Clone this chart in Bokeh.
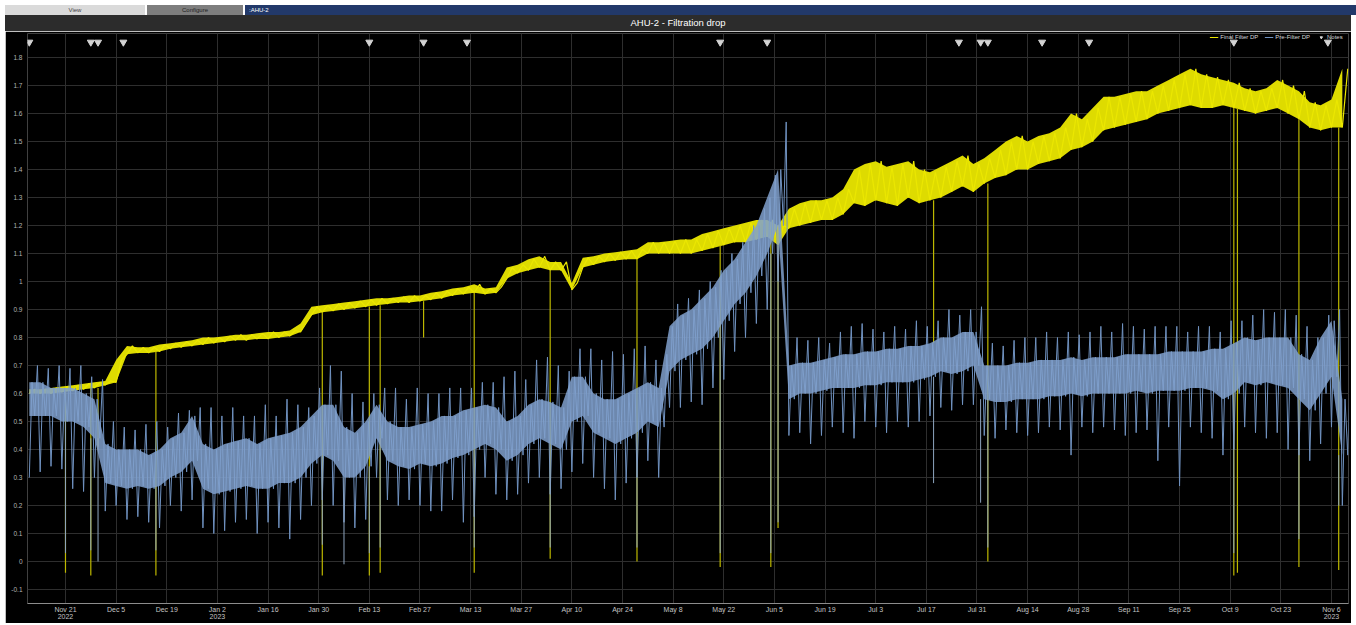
import numpy as np
import pandas as pd
from bokeh.plotting import figure
from bokeh.models import FixedTicker, Legend, LegendItem, Div, Range1d
from bokeh.layouts import column
from bokeh.embed import file_html
from bokeh.resources import INLINE

# ---------------- data ----------------
sample_dates = pd.date_range("2022-11-11", periods=122, freq="3D")

final_lo = [0.600, 0.600, 0.600, 0.605, 0.610, 0.615, 0.620, 0.630, 0.640, 0.740,
            0.745, 0.745, 0.750, 0.760, 0.765, 0.770, 0.775, 0.780, 0.785, 0.790,
            0.790, 0.795, 0.795, 0.800, 0.805, 0.820, 0.880, 0.890, 0.895, 0.900,
            0.905, 0.910, 0.915, 0.920, 0.925, 0.925, 0.930, 0.935, 0.940, 0.950,
            0.955, 0.960, 0.955, 0.960, 1.010, 1.030, 1.040, 1.050, 1.040, 1.040,
            0.970, 1.050, 1.060, 1.070, 1.075, 1.080, 1.080, 1.100, 1.100, 1.100,
            1.100, 1.100, 1.110, 1.120, 1.130, 1.140, 1.140, 1.150, 1.160, 1.130,
            1.190, 1.200, 1.210, 1.220, 1.220, 1.240, 1.280, 1.270, 1.290, 1.280,
            1.270, 1.300, 1.280, 1.290, 1.300, 1.320, 1.340, 1.320, 1.350, 1.370,
            1.380, 1.400, 1.400, 1.420, 1.430, 1.440, 1.470, 1.480, 1.500, 1.540,
            1.550, 1.560, 1.570, 1.580, 1.600, 1.610, 1.620, 1.630, 1.620, 1.620,
            1.630, 1.620, 1.610, 1.600, 1.610, 1.620, 1.600, 1.580, 1.550, 1.540,
            1.550, 1.550]
final_hi = [0.615, 0.615, 0.620, 0.625, 0.630, 0.635, 0.640, 0.645, 0.720, 0.770,
            0.765, 0.765, 0.775, 0.780, 0.785, 0.790, 0.800, 0.800, 0.805, 0.810,
            0.810, 0.815, 0.820, 0.820, 0.825, 0.850, 0.910, 0.915, 0.920, 0.925,
            0.930, 0.935, 0.940, 0.940, 0.945, 0.950, 0.950, 0.960, 0.965, 0.975,
            0.980, 0.990, 0.975, 0.980, 1.050, 1.060, 1.080, 1.090, 1.070, 1.070,
            0.995, 1.085, 1.090, 1.100, 1.105, 1.110, 1.115, 1.140, 1.140, 1.145,
            1.150, 1.150, 1.170, 1.180, 1.190, 1.200, 1.210, 1.220, 1.220, 1.200,
            1.260, 1.280, 1.290, 1.290, 1.300, 1.330, 1.400, 1.420, 1.430, 1.410,
            1.420, 1.430, 1.400, 1.390, 1.410, 1.430, 1.450, 1.420, 1.440, 1.470,
            1.500, 1.520, 1.500, 1.520, 1.530, 1.550, 1.600, 1.580, 1.620, 1.660,
            1.660, 1.670, 1.680, 1.680, 1.700, 1.720, 1.740, 1.760, 1.740, 1.730,
            1.720, 1.710, 1.690, 1.680, 1.690, 1.720, 1.700, 1.680, 1.640, 1.630,
            1.650, 1.760]

pre_lo = [0.52, 0.52, 0.52, 0.50, 0.50, 0.48, 0.44, 0.28, 0.27, 0.26,
          0.27, 0.26, 0.27, 0.30, 0.32, 0.36, 0.26, 0.24, 0.25, 0.26,
          0.27, 0.26, 0.26, 0.28, 0.28, 0.30, 0.35, 0.38, 0.36, 0.30,
          0.30, 0.34, 0.44, 0.36, 0.34, 0.33, 0.35, 0.34, 0.35, 0.37,
          0.38, 0.40, 0.42, 0.40, 0.36, 0.38, 0.42, 0.44, 0.42, 0.40,
          0.50, 0.52, 0.46, 0.44, 0.42, 0.44, 0.46, 0.50, 0.48, 0.68,
          0.72, 0.74, 0.76, 0.80, 0.86, 0.92, 0.96, 1.02, 1.10, 1.20,
          0.58, 0.60, 0.60, 0.61, 0.62, 0.62, 0.62, 0.63, 0.63, 0.64,
          0.64, 0.64, 0.65, 0.66, 0.68, 0.67, 0.68, 0.70, 0.58, 0.57,
          0.57, 0.58, 0.58, 0.58, 0.59, 0.59, 0.60, 0.59, 0.60, 0.60,
          0.60, 0.60, 0.61, 0.60, 0.61, 0.61, 0.61, 0.62, 0.62, 0.61,
          0.58, 0.60, 0.64, 0.63, 0.64, 0.63, 0.62, 0.58, 0.54, 0.60,
          0.66, 0.38]
pre_hi = [0.64, 0.64, 0.62, 0.62, 0.62, 0.60, 0.58, 0.42, 0.40, 0.40,
          0.40, 0.38, 0.40, 0.44, 0.46, 0.52, 0.42, 0.40, 0.42, 0.43,
          0.44, 0.42, 0.44, 0.45, 0.46, 0.48, 0.52, 0.56, 0.56, 0.48,
          0.46, 0.50, 0.56, 0.50, 0.48, 0.48, 0.49, 0.50, 0.52, 0.52,
          0.54, 0.55, 0.56, 0.55, 0.50, 0.52, 0.56, 0.58, 0.57, 0.55,
          0.66, 0.66, 0.60, 0.58, 0.58, 0.60, 0.62, 0.64, 0.62, 0.84,
          0.88, 0.90, 0.94, 0.98, 1.04, 1.08, 1.14, 1.20, 1.30, 1.40,
          0.70, 0.71, 0.71, 0.72, 0.73, 0.74, 0.74, 0.75, 0.75, 0.76,
          0.76, 0.77, 0.77, 0.78, 0.80, 0.80, 0.82, 0.82, 0.70, 0.70,
          0.70, 0.71, 0.71, 0.72, 0.72, 0.72, 0.73, 0.72, 0.73, 0.73,
          0.73, 0.74, 0.74, 0.74, 0.74, 0.75, 0.75, 0.75, 0.75, 0.76,
          0.76, 0.78, 0.80, 0.79, 0.80, 0.80, 0.80, 0.74, 0.72, 0.80,
          0.86, 0.58]
pre_min = [0.30, 0.32, 0.34, 0.33, 0.26, 0.25, 0.30, 0.18, 0.20, 0.15,
           0.16, 0.14, 0.12, 0.20, 0.18, 0.22, 0.12, 0.10, 0.11, 0.14,
           0.15, 0.10, 0.14, 0.12, 0.08, 0.15, 0.20, 0.22, 0.20, 0.14,
           0.12, 0.15, 0.30, 0.22, 0.20, 0.22, 0.20, 0.18, 0.18, 0.22,
           0.14, 0.16, 0.30, 0.24, 0.22, 0.24, 0.28, 0.30, 0.24, 0.26,
           0.32, 0.35, 0.30, 0.26, 0.22, 0.28, 0.30, 0.36, 0.30, 0.55,
           0.55, 0.57, 0.56, 0.62, 0.65, 0.75, 0.80, 0.85, 0.90, 1.00,
           0.45, 0.46, 0.42, 0.45, 0.48, 0.46, 0.44, 0.50, 0.48, 0.46,
           0.50, 0.48, 0.50, 0.52, 0.55, 0.54, 0.56, 0.56, 0.45, 0.44,
           0.47, 0.46, 0.45, 0.46, 0.48, 0.47, 0.38, 0.48, 0.46, 0.48,
           0.47, 0.45, 0.46, 0.47, 0.36, 0.48, 0.27, 0.48, 0.46, 0.44,
           0.38, 0.40, 0.48, 0.46, 0.44, 0.46, 0.40, 0.38, 0.36, 0.42,
           0.48, 0.20]
pre_max = [0.70, 0.69, 0.70, 0.69, 0.70, 0.66, 0.65, 0.50, 0.48, 0.47,
           0.49, 0.50, 0.48, 0.53, 0.54, 0.55, 0.55, 0.52, 0.55, 0.52,
           0.52, 0.56, 0.52, 0.58, 0.56, 0.55, 0.62, 0.70, 0.68, 0.60,
           0.57, 0.60, 0.62, 0.62, 0.58, 0.62, 0.60, 0.60, 0.62, 0.62,
           0.62, 0.64, 0.64, 0.66, 0.68, 0.65, 0.72, 0.73, 0.70, 0.68,
           0.76, 0.76, 0.72, 0.75, 0.74, 0.76, 0.77, 0.72, 0.74, 0.92,
           0.94, 0.97, 1.00, 1.04, 1.10, 1.14, 1.20, 1.26, 1.38, 1.57,
           0.80, 0.79, 0.80, 0.78, 0.82, 0.84, 0.85, 0.83, 0.82, 0.84,
           0.83, 0.86, 0.84, 0.86, 0.90, 0.88, 0.90, 0.91, 0.78, 0.77,
           0.79, 0.80, 0.80, 0.82, 0.80, 0.82, 0.81, 0.82, 0.84, 0.82,
           0.85, 0.84, 0.83, 0.84, 0.84, 0.84, 0.82, 0.84, 0.84, 0.82,
           0.86, 0.86, 0.88, 0.90, 0.89, 0.90, 0.88, 0.84, 0.80, 0.88,
           0.90, 0.70]

final_drop_dates = ["2022-11-21", "2022-11-28", "2022-11-30", "2022-12-16", "2023-01-31",
                    "2023-02-13", "2023-02-16", "2023-02-28", "2023-03-14", "2023-04-04",
                    "2023-04-28", "2023-05-21", "2023-06-04", "2023-06-06", "2023-07-19",
                    "2023-08-03", "2023-10-10", "2023-10-11", "2023-10-28", "2023-11-08"]
final_drop_bottom = [-0.04, -0.05, 0.41, -0.05, -0.05, -0.05, -0.04, 0.80, -0.04, 0.01,
                     0.0, -0.02, -0.02, 0.12, 0.78, 0.0, -0.05, -0.04, -0.02, -0.03]

pre_drop_dates = ["2022-11-21", "2022-11-28", "2022-11-30", "2022-12-16", "2023-01-31",
                  "2023-02-06", "2023-02-13", "2023-02-16", "2023-03-14", "2023-04-04",
                  "2023-04-28", "2023-05-21", "2023-06-04", "2023-06-06", "2023-07-19",
                  "2023-08-01", "2023-08-03", "2023-10-10", "2023-10-28", "2023-11-08"]
pre_drop_bottom = [0.03, 0.04, 0.0, 0.04, 0.06, -0.01, 0.03, 0.05, 0.05, 0.05,
                   0.05, 0.03, 0.03, 0.14, 0.28, 0.21, 0.05, 0.03, 0.08, 0.20]

note_dates = ["2022-11-11", "2022-11-28", "2022-11-30", "2022-12-07", "2023-02-13",
              "2023-02-28", "2023-03-12", "2023-05-21", "2023-06-03", "2023-07-26",
              "2023-08-01", "2023-08-03", "2023-08-18", "2023-08-31", "2023-10-10",
              "2023-11-05"]
note_level = 1.855

x_tick_dates = ["2022-11-21", "2022-12-05", "2022-12-19", "2023-01-02", "2023-01-16",
                "2023-01-30", "2023-02-13", "2023-02-27", "2023-03-13", "2023-03-27",
                "2023-04-10", "2023-04-24", "2023-05-08", "2023-05-22", "2023-06-05",
                "2023-06-19", "2023-07-03", "2023-07-17", "2023-07-31", "2023-08-14",
                "2023-08-28", "2023-09-11", "2023-09-25", "2023-10-09", "2023-10-23",
                "2023-11-06"]
x_tick_labels = ["Nov 21\n2022", "Dec 5", "Dec 19", "Jan 2\n2023", "Jan 16", "Jan 30",
                 "Feb 13", "Feb 27", "Mar 13", "Mar 27", "Apr 10", "Apr 24", "May 8",
                 "May 22", "Jun 5", "Jun 19", "Jul 3", "Jul 17", "Jul 31", "Aug 14",
                 "Aug 28", "Sep 11", "Sep 25", "Oct 9", "Oct 23", "Nov 6\n2023"]
y_ticks = [-0.1, 0.0, 0.1, 0.2, 0.3, 0.4, 0.5, 0.6, 0.7, 0.8, 0.9, 1.0,
           1.1, 1.2, 1.3, 1.4, 1.5, 1.6, 1.7, 1.8]
y_tick_labels = ["-0.1", "0", "0.1", "0.2", "0.3", "0.4", "0.5", "0.6", "0.7", "0.8",
                 "0.9", "1", "1.1", "1.2", "1.3", "1.4", "1.5", "1.6", "1.7", "1.8"]

# ---------------- helpers ----------------
def to_ms(d):
    return float(pd.Timestamp(d).value // 10**6)

def zigzag(lo, hi):
    step = pd.Timedelta(hours=36)
    xs, ys = [], []
    for d, a, b in zip(sample_dates, lo, hi):
        xs += [d, d + step]
        ys += [a, b]
    return xs, ys

def spiky(mn, hi, lo, mx):
    q = pd.Timedelta(hours=18)
    xs, ys = [], []
    for d, a, b, c, e in zip(sample_dates, mn, hi, lo, mx):
        xs += [d, d + q, d + 2 * q, d + 3 * q]
        ys += [a, b, c, e]
    return xs, ys

def level_at(dates, series):
    out = []
    for d in dates:
        i = int(np.argmin(np.abs((sample_dates - pd.Timestamp(d)).total_seconds())))
        out.append(series[i])
    return out

YELLOW = "#ebe700"
YELLOW_FILL = "#dedb00"
YELLOW_DROP = "#bdb800"
BLUE = "#7092c0"
BLUE_CORE = "#80a0cc"
BLUE_DROP = "#8ea5bf"

# ---------------- figure ----------------
p = figure(width=1346, height=592, x_axis_type="datetime",
           output_backend="svg", toolbar_location=None,
           x_range=Range1d(pd.Timestamp("2022-11-10 12:00"), pd.Timestamp("2023-11-10 17:00")),
           y_range=Range1d(-0.150, 1.886),
           background_fill_color="black", border_fill_color="black",
           min_border=0, min_border_left=22, min_border_right=3, min_border_top=2,
           min_border_bottom=20, margin=(0, 0, 0, 5))
p.outline_line_color = None

# Final filter (yellow)
fx, fy = zigzag(final_lo, final_hi)
p.varea(x=sample_dates, y1=final_lo, y2=final_hi, fill_color=YELLOW_FILL, fill_alpha=1.0)
r_final = p.line(fx, fy, line_color=YELLOW, line_width=1.2)
fd = [pd.Timestamp(d) for d in final_drop_dates]
p.segment(x0=fd, y0=level_at(final_drop_dates, final_lo), x1=fd, y1=final_drop_bottom,
          line_color=YELLOW_DROP, line_width=1.2)

# Pre-filter (blue)
bx, by = spiky(pre_min, pre_hi, pre_lo, pre_max)
r_pre = p.line(bx, by, line_color=BLUE, line_width=1.0)
p.varea(x=sample_dates, y1=pre_lo, y2=pre_hi, fill_color=BLUE_CORE, fill_alpha=0.85)
pd_ = [pd.Timestamp(d) for d in pre_drop_dates]
p.segment(x0=pd_, y0=level_at(pre_drop_dates, pre_lo), x1=pd_, y1=pre_drop_bottom,
          line_color=BLUE_DROP, line_width=1.0)

# Notes
nd = [pd.Timestamp(d) for d in note_dates]
r_notes = p.scatter(x=nd, y=[note_level] * len(nd), marker="inverted_triangle",
                    size=7, fill_color="#d4d4d4", line_color="#d4d4d4")

# axes
x_ms = [to_ms(d) for d in x_tick_dates]
p.xaxis.ticker = FixedTicker(ticks=x_ms)
p.xaxis.major_label_overrides = dict(zip(x_ms, x_tick_labels))
p.xaxis.axis_line_color = "#8c8c8c"
p.xaxis.major_tick_line_color = None
p.xaxis.minor_tick_line_color = None
p.xaxis.major_tick_out = 0
p.xaxis.major_tick_in = 0
p.xaxis.minor_tick_out = 0
p.xaxis.major_label_standoff = 2
p.xaxis.major_label_text_color = "#c4c4c4"
p.xaxis.major_label_text_font_size = "7px"
p.xaxis.major_label_text_font = "Liberation Sans"
p.xaxis.major_label_text_line_height = 1.0

p.yaxis.ticker = FixedTicker(ticks=y_ticks)
p.yaxis.major_label_overrides = dict(zip(y_ticks, y_tick_labels))
p.yaxis.axis_line_color = None
p.yaxis.major_tick_line_color = None
p.yaxis.minor_tick_line_color = None
p.yaxis.major_tick_out = 0
p.yaxis.major_tick_in = 0
p.yaxis.minor_tick_out = 0
p.yaxis.major_label_standoff = 5
p.yaxis.major_label_text_color = "#b4b4b4"
p.yaxis.major_label_text_font_size = "6.5px"
p.yaxis.major_label_text_font = "Liberation Sans"

p.xgrid.ticker = FixedTicker(ticks=x_ms)
p.ygrid.ticker = FixedTicker(ticks=y_ticks)
p.xgrid.grid_line_color = "#2e2e2e"
p.ygrid.grid_line_color = "#2e2e2e"

legend = Legend(items=[LegendItem(label="Final Filter DP", renderers=[r_final]),
                       LegendItem(label="Pre-Filter DP", renderers=[r_pre]),
                       LegendItem(label="Notes", renderers=[r_notes])],
                location="top_right", orientation="horizontal",
                background_fill_alpha=0, border_line_color=None,
                label_text_font_size="6px", label_text_color="#d8d8d8",
                label_text_font="Liberation Sans",
                glyph_width=9, glyph_height=6, spacing=6, padding=0, margin=1,
                label_standoff=2, label_height=6)
p.add_layout(legend)

header_html = """
<div style="position:relative;width:1356px;height:31px;background:#ffffff;font-family:'Liberation Sans',Arial,sans-serif;overflow:hidden">
 <div style="position:absolute;left:245px;top:5px;width:1111px;height:10px;background:#22396a"></div>
 <div style="position:absolute;left:5px;top:5px;width:140px;height:10px;background:#dadada;color:#444;font-size:6px;line-height:10px;text-align:center">View</div>
 <div style="position:absolute;left:147px;top:5px;width:96px;height:10px;background:#7e7e7e;color:#222;font-size:6px;line-height:10px;text-align:center">Configure</div>
 <div style="position:absolute;left:249px;top:5px;height:10px;color:#ffffff;font-size:6px;line-height:10px">:AHU-2</div>
 <div style="position:absolute;left:5px;top:15px;width:1346px;height:16px;line-height:16px;text-align:center;color:#ffffff;font-size:9.5px;background:#2c2c2c">AHU-2 - Filtration drop</div>
</div>
"""
header = Div(text=header_html, width=1356, height=31, margin=0)

layout = column(header, p, spacing=0)
open("out.html", "w").write(file_html(layout, INLINE))
